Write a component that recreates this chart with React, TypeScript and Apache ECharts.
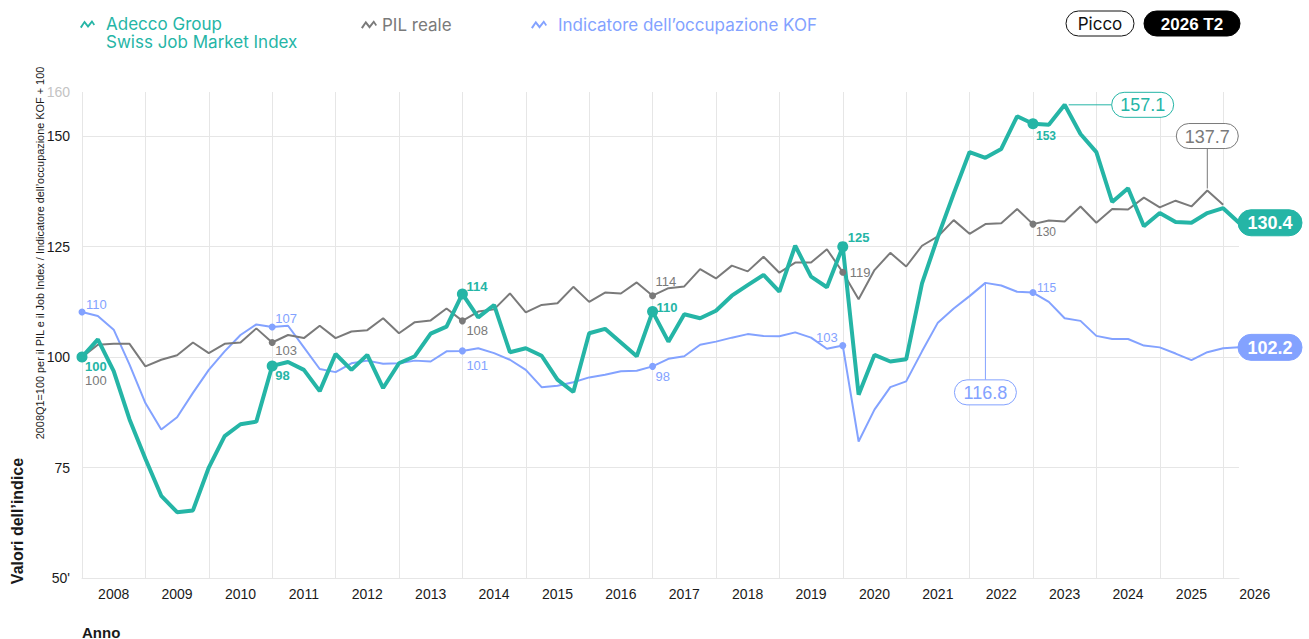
import React, { useEffect, useRef } from "react";
import * as echarts from "echarts";

// ---------- data (quarterly, 2008 T1 .. 2026 T2) ----------
const years = [2008, 2009, 2010, 2011, 2012, 2013, 2014, 2015, 2016, 2017, 2018, 2019, 2020, 2021, 2022, 2023, 2024, 2025, 2026];

const jobIndex = [
  100, 104.0, 96.8, 85.9, 77.0, 68.6, 64.9, 65.3, 75.0, 82.1,
  84.8, 85.4, 98.0, 98.9, 97.1, 92.3, 100.7, 97.1, 100.5, 93.0,
  98.6, 100.2, 105.3, 106.9, 114.3, 109.0, 111.8, 101.1, 102.0, 100.3,
  94.9, 92.1, 105.4, 106.4, 103.3, 100.2, 110.3, 103.5, 109.7, 108.8,
  110.5, 113.9, 116.3, 118.6, 114.8, 125.2, 118.2, 115.8, 125.0, 91.5,
  100.5, 99.0, 99.5, 116.7, 127.2, 137.0, 146.4, 145.1, 147.1, 154.5,
  152.8, 152.6, 157.1, 150.5, 146.4, 135.1, 138.2, 129.6, 132.6, 130.6,
  130.4, 132.6, 133.7, 130.4,
];

const gdp = [
  100, 102.8, 103.0, 103.0, 97.9, 99.4, 100.4, 103.3, 100.9, 103.0,
  103.3, 106.5, 103.3, 105.0, 104.3, 107.1, 104.3, 105.8, 106.1, 108.8,
  105.4, 107.9, 108.3, 111.0, 108.2, 110.3, 110.8, 114.4, 110.1, 111.8,
  112.2, 115.9, 112.5, 114.6, 114.4, 116.9, 113.9, 115.6, 116.0, 119.9,
  117.8, 120.7, 119.4, 122.7, 119.1, 121.4, 121.4, 124.4, 119.2, 113.1,
  119.7, 123.6, 120.5, 125.2, 127.3, 131.0, 127.9, 130.1, 130.3, 133.5,
  130.1, 130.9, 130.7, 134.1, 130.4, 133.5, 133.4, 136.1, 133.9, 135.4,
  134.1, 137.7, 134.5,
];

const kof = [
  110.2, 109.3, 106.2, 98.3, 89.6, 83.6, 86.4, 91.9, 97.1, 101.3,
  105.0, 107.4, 106.8, 107.1, 102.2, 97.3, 96.6, 98.6, 99.2, 98.5,
  98.6, 99.2, 99.0, 101.3, 101.4, 102.0, 100.9, 99.4, 97.1, 93.2,
  93.5, 94.3, 95.4, 96.0, 96.8, 96.9, 97.9, 99.6, 100.2, 102.8,
  103.5, 104.4, 105.2, 104.8, 104.7, 105.6, 104.4, 101.9, 102.6, 80.9,
  88.1, 93.2, 94.5, 101.3, 107.8, 111.0, 113.8, 116.8, 116.2, 114.8,
  114.6, 112.5, 108.8, 108.2, 104.8, 104.1, 104.1, 102.6, 102.2, 100.8,
  99.3, 101.1, 102.0, 102.2,
];

const markerIdx = [0, 12, 24, 36, 48, 60];

const nameJob = "Adecco Group Swiss Job Market Index";
const nameGdp = "PIL reale";
const nameKof = "Indicatore dell\u2019occupazione KOF";

// ---------- styles ----------
const TEAL = "#25b5a6";
const GRAY = "#7a7a7a";
const BLUE = "#83a2ff";
const GRID = "#e6e6e6";
const INK = "#1a1a1a";
const NUM_FONT = "'Liberation Sans', Arial, sans-serif";
const UI_FONT = "Inter, 'Liberation Sans', sans-serif";

// label placement [dx, dy, align] relative to marker centre
const tealLbl: [number, number, string][] = [[3, 9, "left"], [3, 10, "left"], [4, -7, "left"], [4, -4, "left"], [5, -9, "left"], [3, 12, "left"]];
const grayLbl: [number, number, string][] = [[3, 23, "left"], [3, 8, "left"], [4, 10, "left"], [3, -14, "left"], [7, 0, "left"], [3, 8, "left"]];
const blueLbl: [number, number, string][] = [[4, -8, "left"], [3, -9, "left"], [4, 15, "left"], [3, 10, "left"], [-5, -8, "right"], [4, -5, "left"]];

const ICON_BIG = "path://M0,0 L0.01,0 L0,0.01 Z M16,36 L15.99,36 L16,35.99 Z M0,12 L4.5,5.5 L8,10 L12,5 L15,9.5 L13.6,10.6 L12,8 L8,13 L4.5,8.6 L1.6,13.2 Z";
const ICON = "path://M0,12 L4.5,5.5 L8,10 L12,5 L15,9.5 L13.6,10.6 L12,8 L8,13 L4.5,8.6 L1.6,13.2 Z";

function markerSeries(arr: (number | null)[], color: string, size: number, lbl: [number, number, string][], bold: boolean, z: number) {
  return {
    type: "scatter",
    silent: true,
    z,
    symbol: "circle",
    symbolSize: size,
    itemStyle: { color, opacity: 1 },
    emphasis: { disabled: true },
    data: markerIdx.map((i, k) => {
      const v = arr[i] as number;
      const isLast = k === markerIdx.length - 1;
      return {
        value: [i, v],
        symbolSize: i === 0 && color === GRAY ? 10 : size,
        label: {
          show: true,
          position: "inside",
          align: lbl[k][2],
          verticalAlign: "middle",
          offset: [lbl[k][0], lbl[k][1]],
          formatter: String(Math.round(v)),
          color,
          fontSize: isLast ? 12 : 13,
          fontWeight: bold ? 600 : 400,
          fontFamily: NUM_FONT,
          textBorderWidth: 0,
          textBorderColor: "transparent",
        },
      };
    }),
  };
}

function buildOption() {
  return {
    animation: false,
    grid: { left: 82, right: 70, top: 92, bottom: 61 },
    tooltip: { show: false },
    legend: [
      {
        data: [{ name: nameJob, icon: ICON_BIG }],
        left: 80, top: 15, padding: 0, itemWidth: 16, itemHeight: 36, selectedMode: false,
        itemStyle: { borderWidth: 0 },
        formatter: () => "Adecco Group\nSwiss Job Market Index",
        textStyle: { color: TEAL, fontSize: 17, lineHeight: 18, fontFamily: UI_FONT, padding: [0, 0, 0, 5] },
      },
      {
        data: [{ name: nameGdp, icon: ICON }],
        left: 361, top: 16, padding: 0, itemWidth: 16, itemHeight: 10, selectedMode: false,
        itemStyle: { borderWidth: 0 },
        textStyle: { color: GRAY, fontSize: 17, fontFamily: UI_FONT },
      },
      {
        data: [{ name: nameKof, icon: ICON }],
        left: 531, top: 16, padding: 0, itemWidth: 16, itemHeight: 10, selectedMode: false,
        itemStyle: { borderWidth: 0 },
        textStyle: { color: BLUE, fontSize: 17, fontFamily: UI_FONT, padding: [0, 0, 0, 6] },
      },
    ],
    xAxis: {
      type: "value",
      min: 0,
      max: jobIndex.length - 1,
      interval: 4,
      axisLine: { show: true, lineStyle: { color: GRID, width: 1 } },
      axisTick: { show: false },
      splitLine: { show: true, showMaxLine: false, lineStyle: { color: GRID, width: 1 } },
      axisLabel: {
        formatter: (v: number) => (v % 4 === 0 && years[v / 4] !== undefined ? String(years[v / 4]) : ""),
        padding: [0, 0, 0, 63.4],
        margin: 9,
        fontSize: 14,
        color: INK,
        fontFamily: NUM_FONT,
      },
    },
    yAxis: {
      type: "value",
      min: 50,
      max: 160,
      interval: 25,
      axisLine: { show: false },
      axisTick: { show: false },
      splitLine: { show: true, showMaxLine: false, lineStyle: { color: GRID, width: 1 } },
      axisLabel: {
        margin: 12,
        fontSize: 14,
        fontFamily: NUM_FONT,
        color: (v: number) => (Number(v) === 160 ? "#c4c4c4" : INK),
        formatter: (v: number) => (v === 50 ? "50'" : String(v)),
      },
    },
    series: [
      {
        name: nameKof, type: "line", z: 2, silent: true, showSymbol: false,
        color: BLUE, lineStyle: { color: BLUE, width: 2 },
        emphasis: { disabled: true },
        data: kof.map((v, i) => [i, v]),
      },
      {
        name: nameGdp, type: "line", z: 3, silent: true, showSymbol: false,
        color: GRAY, lineStyle: { color: GRAY, width: 2 },
        emphasis: { disabled: true },
        data: gdp.map((v, i) => [i, v]),
      },
      {
        name: nameJob, type: "line", z: 4, silent: true, showSymbol: false,
        color: TEAL, lineStyle: { color: TEAL, width: 4 },
        emphasis: { disabled: true },
        data: jobIndex.map((v, i) => [i, v]),
      },
      markerSeries(kof, BLUE, 7, blueLbl, false, 5),
      markerSeries(gdp, GRAY, 7, grayLbl, false, 6),
      markerSeries(jobIndex, TEAL, 11, tealLbl, true, 7),
    ],
  };
}

const argmax = (a: number[]) => a.reduce((b, v, i) => (v > a[b] ? i : b), 0);

function pill(cx: number, cy: number, w: number, h: number, text: string, fill: string, stroke: string | null, color: string, font: any) {
  return [
    {
      type: "rect", z: 100, silent: true,
      shape: { x: cx - w / 2, y: cy - h / 2, width: w, height: h, r: h / 2 },
      style: { fill, stroke: stroke || fill, lineWidth: 1 },
    },
    {
      type: "text", z: 101, silent: true, x: cx, y: cy + 0.5,
      style: { text, fill: color, align: "center", verticalAlign: "middle", ...font },
    },
  ];
}

export default function App() {
  const ref = useRef<HTMLDivElement>(null);
  useEffect(() => {
    document.body.style.margin = "0";
    const chart = echarts.init(ref.current as HTMLDivElement, null, { renderer: "svg" });
    chart.setOption(buildOption() as any);

    const px = (i: number, v: number) => chart.convertToPixel({ gridIndex: 0 }, [i, v]) as number[];
    const pj = argmax(jobIndex);
    const pg = argmax(gdp);
    const pk = argmax(kof);
    const P1 = px(pj, jobIndex[pj]);
    const P2 = px(pg, gdp[pg]);
    const P3 = px(pk, kof[pk]);
    const lj = jobIndex.length - 1;
    const lk = kof.length - 1;
    const E1 = px(lj, jobIndex[lj]);
    const E2 = px(lk, kof[lk]);

    const lightFont = { fontSize: 18, fontFamily: NUM_FONT, fontWeight: 400 };
    const boldFont = { fontSize: 18, fontFamily: NUM_FONT, fontWeight: "bold" };
    const uiFont = { fontSize: 17, fontFamily: UI_FONT, fontWeight: 400 };
    const uiBold = { fontSize: 17, fontFamily: NUM_FONT, fontWeight: "bold" };

    const graphic: any[] = [
      // connectors
      { type: "line", z: 99, silent: true, shape: { x1: P1[0] + 4, y1: P1[1], x2: P1[0] + 47, y2: P1[1] }, style: { stroke: TEAL, lineWidth: 1 } },
      { type: "line", z: 99, silent: true, shape: { x1: P2[0], y1: P2[1] - 2, x2: P2[0], y2: P2[1] - 42 }, style: { stroke: GRAY, lineWidth: 1 } },
      { type: "line", z: 99, silent: true, shape: { x1: P3[0], y1: P3[1], x2: P3[0], y2: P3[1] + 97 }, style: { stroke: BLUE, lineWidth: 1 } },
      ...pill(P1[0] + 78, P1[1], 62, 25, jobIndex[pj].toFixed(1), "#fff", TEAL, TEAL, lightFont),
      ...pill(P2[0], P2[1] - 54.5, 62, 25, gdp[pg].toFixed(1), "#fff", GRAY, GRAY, lightFont),
      ...pill(P3[0], P3[1] + 109.5, 62, 25, kof[pk].toFixed(1), "#fff", BLUE, BLUE, lightFont),
      // end values
      ...pill(E1[0] + 31, E1[1], 64, 26, jobIndex[lj].toFixed(1), TEAL, null, "#fff", boldFont),
      ...pill(E2[0] + 31, E2[1], 64, 26, kof[lk].toFixed(1), BLUE, null, "#fff", boldFont),
      // top-right badges
      ...pill(1100, 23.5, 68, 25, "Picco", "#fff", "#111", "#111", uiFont),
      ...pill(1192, 23.5, 96, 25, "2026 T2", "#000", null, "#fff", uiBold),
      // axis titles
      {
        type: "text", silent: true, x: 17, y: 521, rotation: Math.PI / 2,
        style: { text: "Valori dell\u2019indice", fill: INK, align: "center", verticalAlign: "middle", fontSize: 16, fontWeight: "bold", fontFamily: NUM_FONT },
      },
      {
        type: "text", silent: true, x: 40, y: 253, rotation: Math.PI / 2,
        style: { text: "2008Q1=100 per il PIL e il Job Index / Indicatore dell\u2019occupazione KOF + 100", fill: INK, align: "center", verticalAlign: "middle", fontSize: 10.9, fontFamily: NUM_FONT },
      },
      {
        type: "text", silent: true, x: 82, y: 632,
        style: { text: "Anno", fill: INK, align: "left", verticalAlign: "middle", fontSize: 15, fontWeight: "bold", fontFamily: NUM_FONT },
      },
    ];
    chart.setOption({ graphic } as any);
    return () => chart.dispose();
  }, []);
  return <div ref={ref} style={{ width: 1309, height: 639 }} />;
}
